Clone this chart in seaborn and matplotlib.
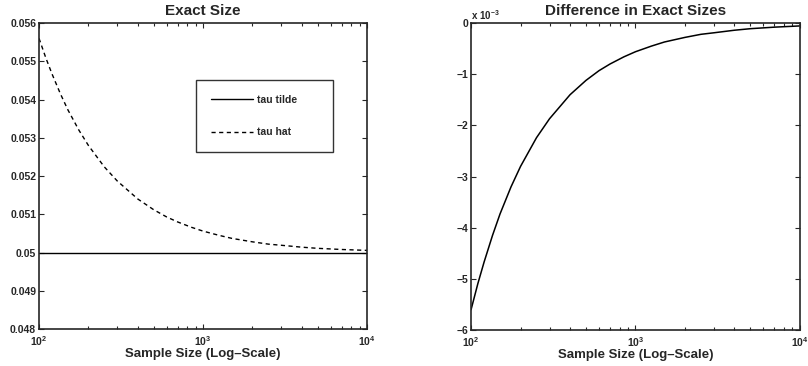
import numpy as np
import pandas as pd
import matplotlib
matplotlib.use("Agg")
import matplotlib.pyplot as plt
import matplotlib.ticker as mticker
import seaborn as sns

# values
sample_size = [100, 110, 120, 135, 150, 175, 200, 250, 300, 400, 500, 600,
               700, 850, 1000, 1250, 1500, 2000, 2500, 3000, 4000, 5000,
               7000, 10000]
size_diff = [-5.6e-3, -5.09e-3, -4.67e-3, -4.15e-3, -3.73e-3, -3.2e-3,
             -2.8e-3, -2.24e-3, -1.87e-3, -1.4e-3, -1.12e-3, -0.93e-3,
             -0.8e-3, -0.66e-3, -0.56e-3, -0.45e-3, -0.37e-3, -0.28e-3,
             -0.22e-3, -0.19e-3, -0.14e-3, -0.11e-3, -0.08e-3, -0.056e-3]
tau_tilde = [0.05] * len(sample_size)
tau_hat = [0.0556, 0.05509, 0.05467, 0.05415, 0.05373, 0.0532, 0.0528,
           0.05224, 0.05187, 0.0514, 0.05112, 0.05093, 0.0508, 0.05066,
           0.05056, 0.05045, 0.05037, 0.05028, 0.05022, 0.05019, 0.05014,
           0.05011, 0.05008, 0.050056]

sns.set_style("ticks")
plt.rcParams["font.family"] = ["Liberation Sans", "DejaVu Sans"]
plt.rcParams["font.weight"] = "bold"
plt.rcParams["mathtext.default"] = "regular"

df = pd.DataFrame({
    "n": sample_size * 2,
    "size": tau_tilde + tau_hat,
    "stat": ["tau tilde"] * len(sample_size) + ["tau hat"] * len(sample_size),
})
df_diff = pd.DataFrame({"n": sample_size, "diff": size_diff})

fig = plt.figure(figsize=(8.08, 3.66), dpi=100)
ax1 = fig.add_axes([0.0483, 0.101, 0.406, 0.836])
ax2 = fig.add_axes([0.583, 0.098, 0.407, 0.839])

sns.lineplot(data=df, x="n", y="size", style="stat", color="black",
             linewidth=1.0, dashes={"tau tilde": "", "tau hat": (3, 2.5)},
             ax=ax1, legend=True)
sns.lineplot(data=df_diff, x="n", y="diff", color="black", linewidth=1.1,
             ax=ax2)


def log_fmt(v, pos):
    return r"$10^{%d}$" % int(round(np.log10(v)))


for ax in (ax1, ax2):
    ax.set_xscale("log")
    ax.set_xlim(100, 10000)
    ax.xaxis.set_major_formatter(mticker.FuncFormatter(log_fmt))
    ax.xaxis.set_minor_formatter(mticker.NullFormatter())
    ax.tick_params(which="both", direction="in", top=True, right=True,
                   labelsize=7.5, width=0.8)
    ax.tick_params(axis="y", pad=2)
    ax.tick_params(axis="x", pad=4)
    ax.tick_params(which="major", length=3.5)
    ax.tick_params(which="minor", length=2)
    for s in ax.spines.values():
        s.set_linewidth(1.2)
        s.set_visible(True)
    ax.set_xlabel("Sample Size (Log\u2013Scale)", fontsize=9.5, fontweight="bold",
                  labelpad=0)
    ax.set_ylabel("")

ax1.set_ylim(0.048, 0.056)
ax1.set_yticks(np.arange(0.048, 0.0561, 0.001))
ax1.yaxis.set_major_formatter(mticker.FuncFormatter(lambda v, p: "%g" % round(v, 4)))
ax1.set_title("Exact Size", fontsize=11, fontweight="bold", pad=6)

ax2.set_ylim(-6e-3, 0)
ax2.set_yticks(np.arange(-6, 0.5, 1) * 1e-3)
ax2.yaxis.set_major_formatter(mticker.FuncFormatter(
    lambda v, p: ("%d" % round(v * 1000)).replace("-", "\u2212")))
ax2.set_title("Difference in Exact Sizes", fontsize=11, fontweight="bold", pad=6)
ax2.text(0.0, 1.005, r"x 10$^{\mathregular{-3}}$", transform=ax2.transAxes,
         fontsize=7, fontweight="bold", ha="left", va="bottom")

leg = ax1.legend(loc="upper left", bbox_to_anchor=(0.48, 0.578, 0.416, 0.236),
                 mode="expand", fontsize=7.5,
                 frameon=True, fancybox=False, edgecolor="black",
                 handlelength=4.0, labelspacing=2.2, borderpad=1.4,
                 handletextpad=0.4, borderaxespad=0, title=None)
leg.get_frame().set_linewidth(1.0)
for t in leg.get_texts():
    t.set_fontweight("bold")

fig.savefig("out.png", dpi=100)
